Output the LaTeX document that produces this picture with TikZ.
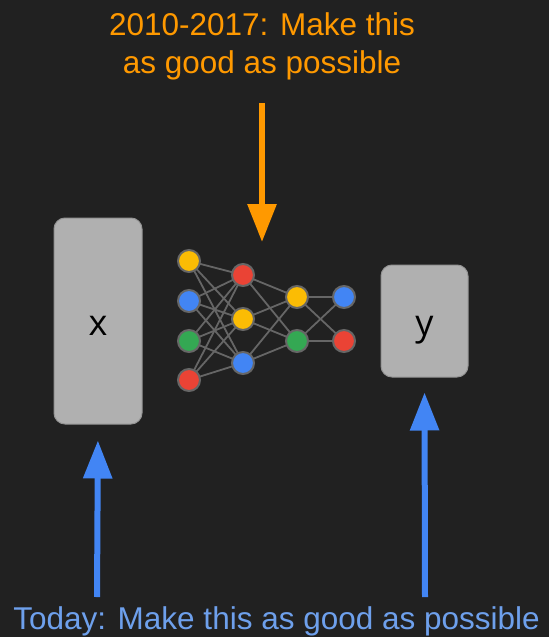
\documentclass[tikz,border=0pt]{standalone}
\usepackage{fontspec}
\setmainfont{Liberation Sans}
\newfontfamily\boxfont{Open Sans}
\definecolor{bgdark}{RGB}{33, 33, 33}
\definecolor{boxgray}{RGB}{176, 176, 176}
\definecolor{edgegray}{RGB}{102, 102, 102}
\definecolor{gyellow}{RGB}{251, 188, 4}
\definecolor{gblue}{RGB}{66, 133, 244}
\definecolor{ggreen}{RGB}{52, 168, 83}
\definecolor{gred}{RGB}{234, 67, 53}
\definecolor{orangearrow}{RGB}{255, 153, 0}
\definecolor{bluetext}{RGB}{110, 160, 236}
\usetikzlibrary{arrows.meta,positioning}

\tikzset{
    neuron/.style={circle, draw=edgegray, line width=2pt, minimum size=22pt, inner sep=0pt},
    databox/.style={rectangle, rounded corners=11pt, draw=edgegray!70, line width=1pt, fill=boxgray},
    boxlabel/.style={anchor=base, inner sep=0pt, font=\boxfont\fontsize{36}{36}\selectfont},
    bigarrow/.style={line width=6pt, -{Triangle[width=28pt, length=38pt]}},
}

\begin{document}
\begin{tikzpicture}[x=1pt, y=-1pt]
    \fill[bgdark] (0,0) rectangle (549,637);
    \useasboundingbox (0,0) rectangle (549,637);

    % Input and output
    \node[databox, minimum width=88pt, minimum height=206pt] (x_box) at (98,321) {};
    \node[databox, minimum width=87pt, minimum height=112pt] (y_box) at (424.5,321) {};
    \node[boxlabel] (x_label) at (98,335) {x};
    \node[boxlabel] (y_label) at (424.5,335) {y};

    % Network layers, positions only
    \coordinate (in1) at (189,261);
    \coordinate (in2) at (189,301);
    \coordinate (in3) at (189,341);
    \coordinate (in4) at (189,380);
    \coordinate (hid1) at (243,275);
    \coordinate (hid2) at (243,319);
    \coordinate (hid3) at (243,363);
    \coordinate (mid1) at (297,297);
    \coordinate (mid2) at (297,341);
    \coordinate (out1) at (344,297);
    \coordinate (out2) at (344,341);

    % Connections
    \foreach \i in {1,...,4}
        \foreach \j in {1,...,3}
            \draw[edgegray, line width=1.8pt] (in\i) -- (hid\j);
    \foreach \i in {1,...,3}
        \foreach \j in {1,2}
            \draw[edgegray, line width=1.8pt] (hid\i) -- (mid\j);
    \foreach \i in {1,2}
        \foreach \j in {1,2}
            \draw[edgegray, line width=1.8pt] (mid\i) -- (out\j);

    % Neurons on top of the lines
    \foreach \n/\c in {in1/gyellow, in2/gblue, in3/ggreen, in4/gred, hid1/gred, hid2/gyellow, hid3/gblue, mid1/gyellow, mid2/ggreen, out1/gblue, out2/gred}
        \node[neuron, fill=\c] (\n_dot) at (\n) {};

    % Labels
    \node[color=orangearrow, align=center, font=\fontsize{31.5}{38}\selectfont, anchor=base] (old_label) at (262,73) {2010-2017: Make this\\as good as possible};
    \node[color=bluetext, font=\fontsize{31.5}{41}\selectfont, anchor=base] (new_label) at (276.5,629) {Today: Make this as good as possible};

    % Arrows
    \coordinate (orange_top) at (262,103);
    \coordinate (orange_tip) at (262,242);
    \coordinate (left_foot) at (97,597);
    \coordinate (right_foot) at (425,597);

    \draw[bigarrow, color=orangearrow] (orange_top) -- (orange_tip);
    \draw[bigarrow, color=gblue, shorten >=16pt] (left_foot) -- (x_box.south);
    \draw[bigarrow, color=gblue, shorten >=15pt] (right_foot) -- (y_box.south);
\end{tikzpicture}
\end{document}
